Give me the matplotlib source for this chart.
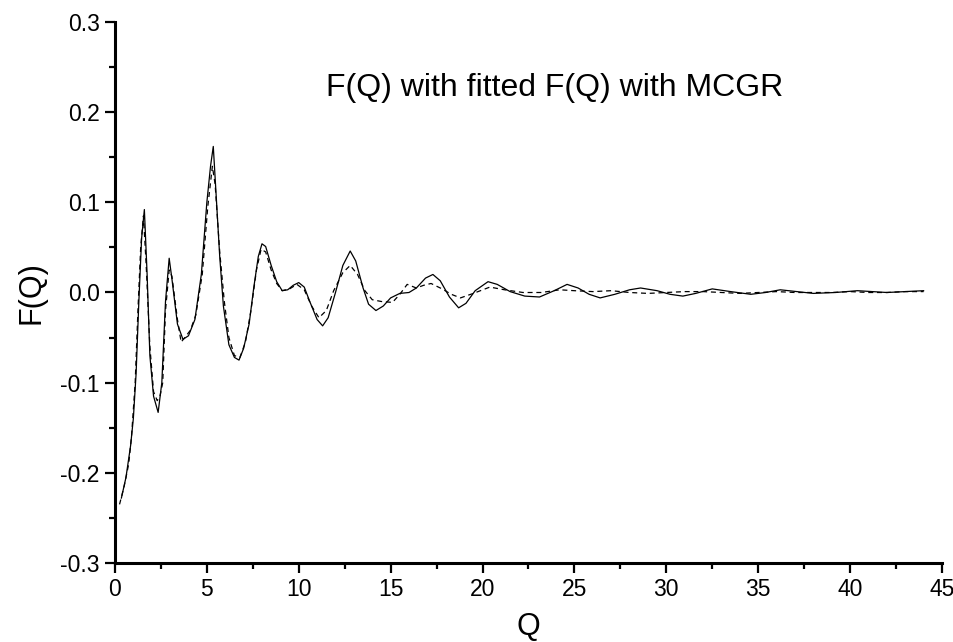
import matplotlib
matplotlib.use("Agg")
import matplotlib.pyplot as plt
from matplotlib.ticker import MultipleLocator, FormatStrFormatter

plt.rcParams['font.family'] = ['Liberation Sans', 'DejaVu Sans']
plt.rcParams['axes.unicode_minus'] = False

# experimental F(Q) (solid)
q_exp = [0.35, 0.6, 0.85, 1.0, 1.15, 1.3, 1.45, 1.6, 1.75, 1.9, 2.1, 2.35, 2.55,
         2.75, 2.95, 3.1, 3.4, 3.7, 4.0, 4.35, 4.7, 5.0, 5.2, 5.35, 5.5, 5.7,
         5.9, 6.2, 6.5, 6.75, 7.0, 7.3, 7.55, 7.8, 8.0, 8.2, 8.5, 8.8, 9.1,
         9.4, 9.7, 10.0, 10.3, 10.6, 11.0, 11.3, 11.6, 12.0, 12.4, 12.8, 13.1,
         13.5, 13.8, 14.2, 14.6, 15.0, 15.5, 16.0, 16.4, 16.9, 17.3, 17.7,
         18.2, 18.7, 19.1, 19.6, 20.3, 20.8, 21.5, 22.3, 23.1, 23.9, 24.6,
         25.2, 25.8, 26.4, 27.2, 28.0, 28.6, 29.5, 30.2, 30.9, 31.6, 32.5,
         33.5, 34.6, 35.4, 36.2, 37.1, 38.0, 39.2, 40.4, 41.2, 42.0, 43.0, 44.0]
f_exp = [-0.228, -0.205, -0.17, -0.14, -0.09, -0.01, 0.06, 0.092, 0.02, -0.07,
         -0.115, -0.133, -0.1, -0.01, 0.038, 0.015, -0.035, -0.052, -0.048,
         -0.03, 0.02, 0.1, 0.14, 0.162, 0.11, 0.04, -0.015, -0.058, -0.072,
         -0.075, -0.062, -0.035, 0.005, 0.04, 0.054, 0.051, 0.03, 0.012, 0.002,
         0.003, 0.008, 0.011, 0.006, -0.01, -0.03, -0.037, -0.028, 0.0, 0.03,
         0.046, 0.035, 0.005, -0.013, -0.02, -0.015, -0.006, -0.001, 0.0,
         0.005, 0.016, 0.02, 0.013, -0.005, -0.017, -0.012, 0.002, 0.012,
         0.009, 0.001, -0.004, -0.005, 0.002, 0.009, 0.005, -0.002, -0.006,
         -0.002, 0.003, 0.005, 0.002, -0.002, -0.004, -0.001, 0.004, 0.001,
         -0.002, 0.0, 0.003, 0.001, -0.001, 0.0, 0.002, 0.001, 0.0, 0.001, 0.002]

# fitted F(Q) from MCGR (dashed)
q_fit = [0.25, 0.5, 0.75, 0.9, 1.1, 1.25, 1.4, 1.55, 1.7, 1.9, 2.1, 2.3, 2.45,
         2.6, 2.75, 2.95, 3.1, 3.4, 3.6, 3.8, 4.1, 4.4, 4.75, 5.05, 5.3, 5.45,
         5.7, 5.95, 6.2, 6.5, 6.8, 7.1, 7.4, 7.7, 7.95, 8.2, 8.5, 8.8, 9.1,
         9.5, 9.9, 10.3, 10.7, 11.1, 11.5, 11.9, 12.4, 12.8, 13.2, 13.6, 14.0,
         14.5, 15.1, 15.5, 15.9, 16.4, 16.8, 17.2, 17.8, 18.3, 18.8, 19.5,
         20.4, 21.2, 22.2, 23.2, 24.2, 25.0, 26.0, 27.0, 28.0, 29.0, 30.0,
         31.0, 32.0, 33.0, 34.0, 35.0, 36.0, 37.0, 38.0, 39.0, 40.0, 41.0,
         42.0, 43.0, 44.0]
f_fit = [-0.235, -0.215, -0.19, -0.16, -0.1, -0.02, 0.05, 0.085, 0.03, -0.06,
         -0.11, -0.12, -0.115, -0.1, -0.02, 0.025, 0.018, -0.03, -0.055, -0.05,
         -0.042, -0.025, 0.02, 0.095, 0.14, 0.12, 0.045, -0.01, -0.05, -0.07,
         -0.072, -0.055, -0.02, 0.025, 0.048, 0.045, 0.025, 0.01, 0.002, 0.004,
         0.009, 0.003, -0.015, -0.028, -0.02, 0.002, 0.022, 0.03, 0.02, 0.002,
         -0.008, -0.01, -0.011, -0.002, 0.009, 0.005, 0.008, 0.01, 0.004,
         -0.002, -0.006, -0.001, 0.006, 0.003, 0.0, 0.0, 0.003, 0.002, 0.001,
         0.002, 0.0, -0.001, 0.0, 0.001, 0.001, 0.0, -0.001, 0.0, 0.001, 0.0,
         0.0, 0.0, 0.001, 0.0, 0.0, 0.001, 0.001]

fig = plt.figure(figsize=(9.54, 6.42), dpi=100)
ax = fig.add_axes([0.1205, 0.1231, 0.8669, 0.8426])

ax.plot(q_exp, f_exp, color='black', linewidth=0.9)
ax.plot(q_fit, f_fit, color='black', linewidth=0.9, linestyle=(0, (4, 3)))

ax.set_xlim(0, 45)
ax.set_ylim(-0.3, 0.3)
ax.xaxis.set_major_locator(MultipleLocator(5))
ax.xaxis.set_minor_locator(MultipleLocator(2.5))
ax.yaxis.set_major_locator(MultipleLocator(0.1))
ax.yaxis.set_minor_locator(MultipleLocator(0.05))
ax.yaxis.set_major_formatter(FormatStrFormatter('%.1f'))

for side in ['top', 'right']:
    ax.spines[side].set_visible(False)
for side in ['left', 'bottom']:
    ax.spines[side].set_linewidth(2.2)

ax.tick_params(which='major', direction='out', length=7, width=1.6,
               labelsize=16.5, pad=4)
ax.tick_params(which='minor', direction='out', length=4.5, width=1.6)

ax.set_xlabel('Q', fontsize=22, labelpad=8)
ax.set_ylabel('F(Q)', fontsize=22, labelpad=10)

ax.text(11.5, 0.227, 'F(Q) with fitted F(Q) with MCGR', fontsize=23,
        ha='left', va='center')

fig.savefig('out.png', dpi=100)
